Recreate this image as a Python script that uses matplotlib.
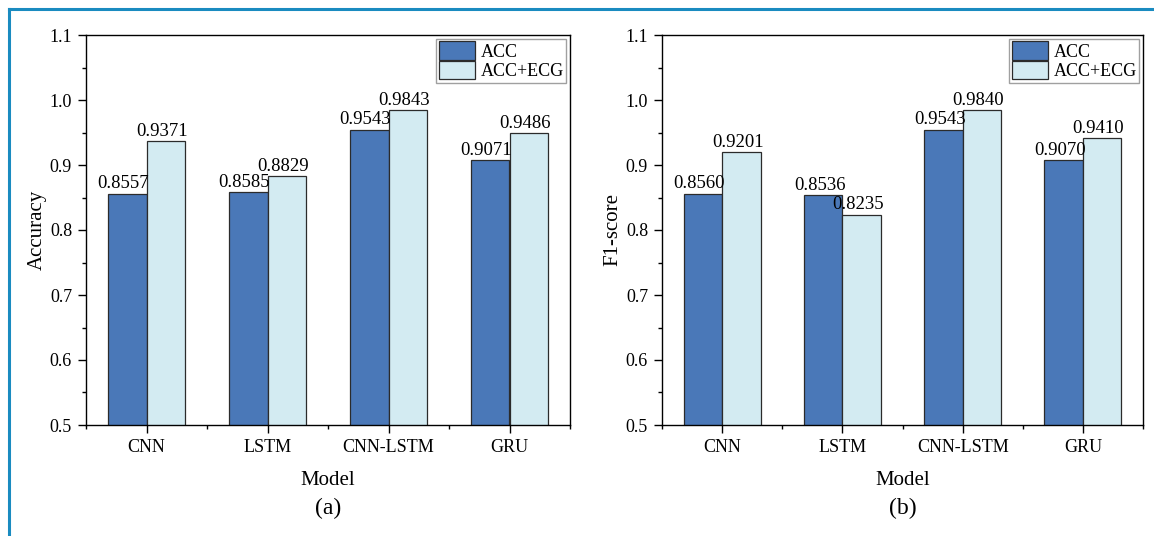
import numpy as np
import matplotlib
matplotlib.use("Agg")
import matplotlib.pyplot as plt
from matplotlib.lines import Line2D

plt.rcParams["font.family"] = ["Liberation Serif", "DejaVu Serif"]

models = ["CNN", "LSTM", "CNN-LSTM", "GRU"]
series = ["ACC", "ACC+ECG"]
acc_acc = [0.8557, 0.8585, 0.9543, 0.9071]
acc_accecg = [0.9371, 0.8829, 0.9843, 0.9486]
f1_acc = [0.8560, 0.8536, 0.9543, 0.9070]
f1_accecg = [0.9201, 0.8235, 0.9840, 0.9410]

colors = ["#4a78b8", "#d3ebf2"]

fig = plt.figure(figsize=(11.54, 5.36), dpi=100)

# blue frame along top and left edges
fig.add_artist(Line2D([0.0075, 1.0], [1 - 9 / 536, 1 - 9 / 536], color="#1a8bc0", lw=2.2, transform=fig.transFigure))
fig.add_artist(Line2D([9 / 1154, 9 / 1154], [0.0, 1 - 9 / 536], color="#1a8bc0", lw=2.2, transform=fig.transFigure))

ax1 = fig.add_axes([86 / 1154, 111 / 536, 484 / 1154, 390 / 536])
ax2 = fig.add_axes([662 / 1154, 111 / 536, 481 / 1154, 390 / 536])


def draw(ax, vals_a, vals_b, ylabel, tag):
    x = np.arange(len(models))
    w = 0.32
    b1 = ax.bar(x - w / 2, vals_a, w, bottom=0, color=colors[0], edgecolor="#2b2b2b", lw=0.9, label=series[0])
    b2 = ax.bar(x + w / 2, vals_b, w, bottom=0, color=colors[1], edgecolor="#2b2b2b", lw=0.9, label=series[1])
    for bars, vals in [(b1, vals_a), (b2, vals_b)]:
        for r, v in zip(bars, vals):
            ax.text(r.get_x() + r.get_width() / 2 - 0.03, v + 0.002, "%.4f" % v,
                    ha="center", va="bottom", fontsize=13.5)
    ax.set_xlim(-0.5, 3.5)
    ax.set_ylim(0.5, 1.1)
    ax.set_xticks(x)
    ax.set_xticklabels(models, fontsize=13)
    ax.set_xticks(np.arange(-0.5, 4.0, 1.0), minor=True)
    ax.set_yticks(np.arange(0.5, 1.11, 0.1))
    ax.set_yticklabels(["%.1f" % t for t in np.arange(0.5, 1.11, 0.1)], fontsize=13)
    ax.set_yticks(np.arange(0.55, 1.1, 0.1), minor=True)
    ax.tick_params(which="major", direction="out", length=6, width=1, pad=4)
    ax.tick_params(which="minor", direction="out", length=3, width=1)
    for s in ax.spines.values():
        s.set_linewidth(1.0)
    ax.set_xlabel("Model", fontsize=15, labelpad=11)
    ax.set_ylabel(ylabel, fontsize=15, labelpad=2)
    ax.text(0.5, -0.215, tag, transform=ax.transAxes, ha="center", va="center", fontsize=17)
    leg = ax.legend(loc="upper right", fontsize=13, frameon=True, fancybox=False,
                    edgecolor="#888888", handlelength=2.0, handleheight=1.2,
                    labelspacing=0.0, borderpad=0.15, handletextpad=0.3,
                    borderaxespad=0.2)
    leg.get_frame().set_linewidth(1.0)


draw(ax1, acc_acc, acc_accecg, "Accuracy", "(a)")
draw(ax2, f1_acc, f1_accecg, "F1-score", "(b)")

fig.savefig("out.png", dpi=100)
